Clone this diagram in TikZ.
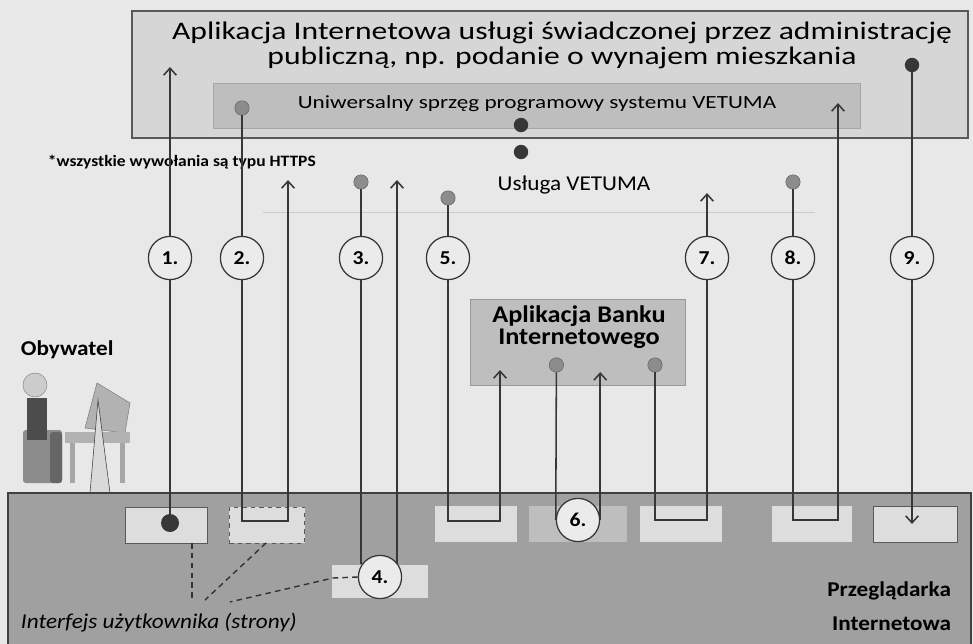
\documentclass[tikz,border=0pt]{standalone}
\usepackage{fontspec}
\setmainfont{Carlito}[FakeStretch=1.1]
\newfontfamily\widefont{Carlito}[FakeStretch=1.25]
\usetikzlibrary{arrows.meta}

\definecolor{paper}{RGB}{232,232,232}
\definecolor{appgray}{RGB}{214,214,214}
\definecolor{apigray}{RGB}{190,190,190}
\definecolor{webgray}{RGB}{160,160,160}
\definecolor{slotgray}{RGB}{221,221,221}
\definecolor{inkgray}{RGB}{55,55,55}

\begin{document}
\begin{tikzpicture}[x=0.025cm,y=-0.025cm,
  num/.style={circle,draw=inkgray,line width=0.9pt,fill=white!92!black,minimum size=1.08cm,inner sep=0pt,font=\bfseries\fontsize{14}{14}\selectfont},
  dot/.style={circle,fill=inkgray,minimum size=0.36cm,inner sep=0pt},
  gdot/.style={circle,fill=black!45,draw=black!60,minimum size=0.36cm,inner sep=0pt},
  slot/.style={fill=slotgray,minimum height=0.9cm,inner sep=0pt},
  flow/.style={draw=inkgray,line width=1.1pt},
  up/.style={flow,-{Straight Barb[length=5pt,width=9pt]}},
  link/.style={draw=black!80,line width=1pt,dash pattern=on 4pt off 3pt}]
\fill[paper] (0,0) rectangle (973,644);
\useasboundingbox (0,0) rectangle (973,644);

%Draw application box with VETUMA interface
\draw[fill=appgray,draw=black!65,line width=0.8pt] (132,11) rectangle (968,138);
\node[align=center,font=\widefont\fontsize{18}{17.8}\selectfont] (app) at (562,45) {Aplikacja Internetowa usługi świadczonej przez administrację\\publiczną, np. podanie o wynajem mieszkania};
\draw[fill=apigray,draw=black!35] (213,83) rectangle (860,128);
\node[font=\widefont\fontsize{13.2}{13}\selectfont] (api) at (537,104) {Uniwersalny sprzęg programowy systemu VETUMA};

%Draw VETUMA service
\draw[black!20] (263,212) -- (815,212);
\node[dot] (v1) at (521,125) {};
\node[dot] (v2) at (521,152) {};
\node[font=\fontsize{15}{15}\selectfont] (vetuma) at (574,185) {Usługa VETUMA};
\node[anchor=west,font=\bfseries\fontsize{11.3}{11}\selectfont] (note) at (43,162) {*wszystkie wywołania są typu HTTPS};

%Draw citizen at his desk
\node[anchor=west,font=\bfseries\fontsize{15}{15}\selectfont] (citizen) at (16,350) {Obywatel};
\draw[fill=black!20,draw=black!45] (35,385) circle[radius=0.3cm];
\fill[black!45,rounded corners=2pt] (23,430) rectangle (62,483);
\fill[black!60,rounded corners=2pt] (50,432) rectangle (62,483);
\fill[black!70] (27,398) rectangle (47,440);
\fill[black!30,draw=black!50] (97,383) -- (130,403) -- (125,433) -- (85,428) -- cycle;
\fill[black!30] (65,432) rectangle (130,443);
\fill[black!35] (70,443) rectangle (75,483);
\fill[black!35] (120,443) rectangle (125,483);
\draw[black!75,fill=black!15] (90,493) -- (98,400) -- (110,493);

%Draw bank application
\draw[fill=apigray,draw=black!40] (470,299) rectangle (685,385);
\node[align=center,font=\bfseries\fontsize{17}{15.6}\selectfont] (bank) at (579,327) {Aplikacja Banku\\Internetowego};

%Draw browser with its pages
\draw[fill=webgray,draw=black!75,line width=0.8pt] (8,493) rectangle (971,660);
\node[slot,draw=black!65,minimum width=2.05cm] (s1) at (166,525) {};
\node[slot,draw=black!65,dashed,minimum width=1.875cm] (s2) at (267,525) {};
\node[slot,minimum width=2.375cm,minimum height=0.825cm] (s4) at (380,581) {};
\node[slot,minimum width=2.05cm] (s5) at (476,524) {};
\node[slot,fill=apigray,minimum width=2.425cm] (s6) at (578,524) {};
\node[slot,minimum width=2.05cm] (s7) at (681,524) {};
\node[slot,minimum width=1.975cm] (s8) at (812,524) {};
\node[slot,draw=black!65,minimum width=2.1cm] (s9) at (915,524) {};
\node[anchor=west,font=\itshape\fontsize{15}{15}\selectfont] (ui) at (16,623) {Interfejs użytkownika (strony)};
\node[anchor=east,align=right,font=\bfseries\fontsize{15}{24}\selectfont] (browser) at (956,606) {Przeglądarka\\Internetowa};

%Draw calls
\node[dot,minimum size=0.45cm] (d1) at (170,523) {};
\node[gdot] (d2) at (242,108) {};
\node[gdot] (d3) at (361,182) {};
\node[gdot] (d5) at (448,198) {};
\node[gdot] (d6) at (556.4,365) {};
\node[gdot] (d7) at (655,365) {};
\node[gdot] (d8) at (793,182) {};
\node[dot] (d9) at (912,65) {};

\node[num] (c1) at (170,258) {1.};
\node[num] (c2) at (242,258) {2.};
\node[num] (c3) at (361,258) {3.};
\node[num] (c4) at (380,577) {4.};
\node[num] (c5) at (448,258) {5.};
\node[num] (c6) at (578,520) {6.};
\node[num] (c7) at (707,258) {7.};
\node[num] (c8) at (793,258) {8.};
\node[num] (c9) at (912,258) {9.};

\coordinate (a1) at (170,67);
\coordinate (a2) at (288,180);
\coordinate (a3) at (397,180);
\coordinate (a5) at (500,370);
\coordinate (a6) at (600,372);
\coordinate (a7) at (707,193);
\coordinate (a8) at (838,103);
\coordinate (a9) at (912,524);

\draw[flow] (d1) -- (c1);
\draw[up] (c1) -- (a1);
\draw[flow] (d2) -- (c2);
\draw[up] (c2) |- (288,521) -- (a2);
\draw[flow] (d3) -- (c3);
\draw[flow] (c3) -- (c3 |- s4.north);
\draw[up] (s4.north -| a3) -- (a3);
\draw[flow] (d5) -- (c5);
\draw[up] (c5) |- (500,521) -- (a5);
\draw[flow] (d6) -- (c6.west);
\draw[up] (c6.east) -- (c6.east |- a6);
\draw[flow] (d7) |- (707,520) -- (c7);
\draw[up] (c7) -- (a7);
\draw[flow] (d8) -- (c8);
\draw[up] (c8) |- (838,520) -- (a8);
\draw[flow] (d9) -- (c9);
\draw[up] (c9) -- (a9);

%Draw links to the pages
\draw[link] (192,543) -- (192,600);
\draw[link] (266,543) -- (205,600);
\draw[link] (c4.west) -- (333,578) -- (230,602);
\end{tikzpicture}
\end{document}
